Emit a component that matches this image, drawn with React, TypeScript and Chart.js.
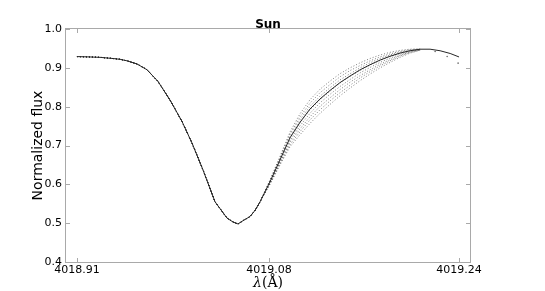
import { useEffect, useRef } from 'react';
import { Chart, registerables } from 'chart.js';

Chart.register(...registerables);

// ---- data ----
const TITLE = 'Sun';
const Y_TITLE = 'Normalized flux';
const X_TITLE_SYMBOL = 'λ';
const X_TITLE_UNIT = '(Å)';

const X_MIN = 4018.9;
const X_MAX = 4019.25;
const Y_MIN = 0.4;
const Y_MAX = 1.0;
const Y_STEP = 0.1;

const XTICK_POS = [4018.9095, 4019.0759, 4019.2405];
const XTICK_LABELS = ['4018.91', '4019.08', '4019.24'];

// shared blue wing + core (observed and models coincide here)
const WL_LEFT = [
  4018.9095, 4018.9208, 4018.9295, 4018.9407, 4018.9468, 4018.9529, 4018.9615,
  4018.9702, 4018.9797, 4018.9901, 4019.0005, 4019.0092, 4019.0187, 4019.0291,
  4019.0395, 4019.0447, 4019.049, 4019.0542, 4019.0594, 4019.0638, 4019.0681,
];
const FLUX_LEFT = [
  0.929, 0.928, 0.927, 0.924, 0.922, 0.918, 0.91, 0.895, 0.865, 0.817, 0.762,
  0.706, 0.637, 0.555, 0.513, 0.503, 0.498, 0.508, 0.517, 0.533, 0.555,
];

// red wing grid
const WL_RIGHT = [
  4019.0768, 4019.0854, 4019.0941, 4019.1028, 4019.1114, 4019.1201, 4019.1288,
  4019.1374, 4019.1461, 4019.1548, 4019.1634, 4019.1721, 4019.1808, 4019.1894,
  4019.1981, 4019.2068,
];

// observed spectrum (solid) red wing
const OBS_WL_TAIL = [4019.2154, 4019.2241, 4019.2328, 4019.2405];
const OBS_FLUX_RIGHT = [
  0.607, 0.663, 0.72, 0.76, 0.794, 0.82, 0.842, 0.862, 0.879, 0.895, 0.908,
  0.92, 0.93, 0.938, 0.944, 0.948, 0.948, 0.944, 0.937, 0.928,
];

// synthetic spectra (dotted) red wing
const MODEL_1 = [0.612, 0.672, 0.735, 0.782, 0.818, 0.845, 0.866, 0.885, 0.9, 0.913, 0.924, 0.933, 0.94, 0.945, 0.948, 0.949];
const MODEL_2 = [0.61, 0.669, 0.73, 0.774, 0.809, 0.836, 0.857, 0.877, 0.893, 0.906, 0.918, 0.928, 0.936, 0.942, 0.947, 0.948];
const MODEL_3 = [0.609, 0.666, 0.724, 0.767, 0.801, 0.827, 0.849, 0.869, 0.885, 0.9, 0.913, 0.924, 0.933, 0.94, 0.945, 0.948];
const MODEL_4 = [0.607, 0.663, 0.719, 0.759, 0.792, 0.818, 0.84, 0.861, 0.878, 0.893, 0.907, 0.919, 0.929, 0.937, 0.944, 0.947];
const MODEL_5 = [0.605, 0.659, 0.713, 0.751, 0.783, 0.81, 0.832, 0.852, 0.87, 0.887, 0.901, 0.914, 0.925, 0.935, 0.942, 0.947];
const MODEL_6 = [0.603, 0.656, 0.708, 0.743, 0.774, 0.801, 0.823, 0.844, 0.863, 0.88, 0.895, 0.909, 0.921, 0.932, 0.941, 0.946];
const MODEL_7 = [0.602, 0.653, 0.702, 0.736, 0.766, 0.792, 0.815, 0.836, 0.855, 0.874, 0.89, 0.905, 0.918, 0.93, 0.939, 0.946];
const MODEL_8 = [0.6, 0.65, 0.697, 0.728, 0.757, 0.783, 0.806, 0.828, 0.848, 0.867, 0.884, 0.9, 0.914, 0.927, 0.938, 0.945];
const MODELS = [MODEL_1, MODEL_2, MODEL_3, MODEL_4, MODEL_5, MODEL_6, MODEL_7, MODEL_8];

// sparse model samples beyond the peak (shared by all models)
const MODEL_TAIL_WL = [4019.2198, 4019.2302, 4019.2397];
const MODEL_TAIL_FLUX = [0.942, 0.929, 0.912];

const toPoints = (xs: number[], ys: number[]) => xs.map((x, i) => ({ x, y: ys[i] }));

const framePlugin = {
  id: 'frame',
  afterDraw(chart: any) {
    const { ctx, chartArea: a, scales } = chart;
    const xs = scales.x;
    const ys = scales.y;
    ctx.save();
    ctx.strokeStyle = '#a9a9a9';
    ctx.lineWidth = 1;
    ctx.strokeRect(a.left - 0.5, a.top - 0.5, a.right - a.left + 1, a.bottom - a.top + 1);
    ctx.beginPath();
    ys.ticks.forEach((t: any) => {
      const py = Math.round(ys.getPixelForValue(t.value)) + 0.5;
      ctx.moveTo(a.left, py);
      ctx.lineTo(a.left + 4, py);
      ctx.moveTo(a.right, py);
      ctx.lineTo(a.right - 4, py);
    });
    xs.ticks.forEach((t: any) => {
      const px = Math.round(xs.getPixelForValue(t.value)) + 0.5;
      ctx.moveTo(px, a.bottom);
      ctx.lineTo(px, a.bottom - 4);
      ctx.moveTo(px, a.top);
      ctx.lineTo(px, a.top + 4);
    });
    ctx.stroke();

    const cx = (a.left + a.right) / 2;
    ctx.fillStyle = '#000';
    ctx.font = 'bold 12px "DejaVu Sans"';
    ctx.textAlign = 'center';
    ctx.textBaseline = 'alphabetic';
    ctx.fillText(TITLE, cx, a.top - 1);

    ctx.save();
    ctx.translate(38, (a.top + a.bottom) / 2);
    ctx.rotate(-Math.PI / 2);
    ctx.font = '14px "DejaVu Sans"';
    ctx.textBaseline = 'middle';
    ctx.fillText(Y_TITLE, 0, 0);
    ctx.restore();

    ctx.font = 'italic 14px "DejaVu Serif"';
    const w1 = ctx.measureText(X_TITLE_SYMBOL).width;
    ctx.font = '14px "DejaVu Serif"';
    const w2 = ctx.measureText(X_TITLE_UNIT).width;
    const start = cx - (w1 + w2) / 2;
    ctx.textAlign = 'left';
    ctx.textBaseline = 'alphabetic';
    ctx.font = 'italic 14px "DejaVu Serif"';
    ctx.fillText(X_TITLE_SYMBOL, start, 287);
    ctx.font = '14px "DejaVu Serif"';
    ctx.fillText(X_TITLE_UNIT, start + w1, 287);
    ctx.restore();
  },
};

export default function App() {
  const ref = useRef<HTMLCanvasElement | null>(null);

  useEffect(() => {
    if (!ref.current) return;
    Chart.defaults.font.family = '"DejaVu Sans"';
    const modelWl = [...WL_LEFT, ...WL_RIGHT];
    const datasets: any[] = MODELS.map((m, i) => ({
      label: `model ${i + 1}`,
      data: toPoints(modelWl, [...FLUX_LEFT, ...m]),
      borderColor: 'rgba(40,40,40,0.6)',
      borderWidth: 1,
      borderDash: [1, 2],
      pointRadius: 0,
      fill: false,
      tension: 0,
    }));
    datasets.push({
      label: 'model tail',
      data: toPoints(MODEL_TAIL_WL, MODEL_TAIL_FLUX),
      showLine: false,
      pointRadius: 0.8,
      pointBorderWidth: 0,
      pointBackgroundColor: 'rgba(40,40,40,0.7)',
    });
    datasets.push({
      label: 'observed',
      data: toPoints([...WL_LEFT, ...WL_RIGHT, ...OBS_WL_TAIL], [...FLUX_LEFT, ...OBS_FLUX_RIGHT]),
      borderColor: 'rgba(0,0,0,0.85)',
      borderWidth: 1,
      pointRadius: 0,
      fill: false,
      tension: 0,
    });

    const chart = new Chart(ref.current, {
      type: 'line',
      data: { datasets },
      plugins: [framePlugin],
      options: {
        animation: false,
        responsive: false,
        devicePixelRatio: 1,
        layout: { padding: { top: 29, right: 75, left: 0, bottom: 0 } },
        plugins: { legend: { display: false }, tooltip: { enabled: false }, title: { display: false } },
        scales: {
          x: {
            type: 'linear',
            min: X_MIN,
            max: X_MAX,
            grid: { display: false, drawTicks: false },
            border: { display: false },
            afterBuildTicks: (s: any) => {
              s.ticks = XTICK_POS.map((v) => ({ value: v }));
            },
            afterFit: (s: any) => {
              s.height = 29;
            },
            ticks: {
              color: '#000',
              font: { size: 11 },
              padding: 2,
              maxRotation: 0,
              autoSkip: false,
              callback: (_v: any, i: number) => XTICK_LABELS[i],
            },
          },
          y: {
            min: Y_MIN,
            max: Y_MAX,
            grid: { display: false, drawTicks: false },
            border: { display: false },
            afterFit: (s: any) => {
              s.width = 66;
            },
            ticks: {
              stepSize: Y_STEP,
              color: '#000',
              font: { size: 11 },
              padding: 4,
              callback: (v: any) => Number(v).toFixed(1),
            },
          },
        },
      },
    });
    return () => chart.destroy();
  }, []);

  return (
    <div style={{ position: 'absolute', left: 0, top: 0, width: 545, height: 291 }}>
      <canvas ref={ref} width={545} height={291} />
    </div>
  );
}
